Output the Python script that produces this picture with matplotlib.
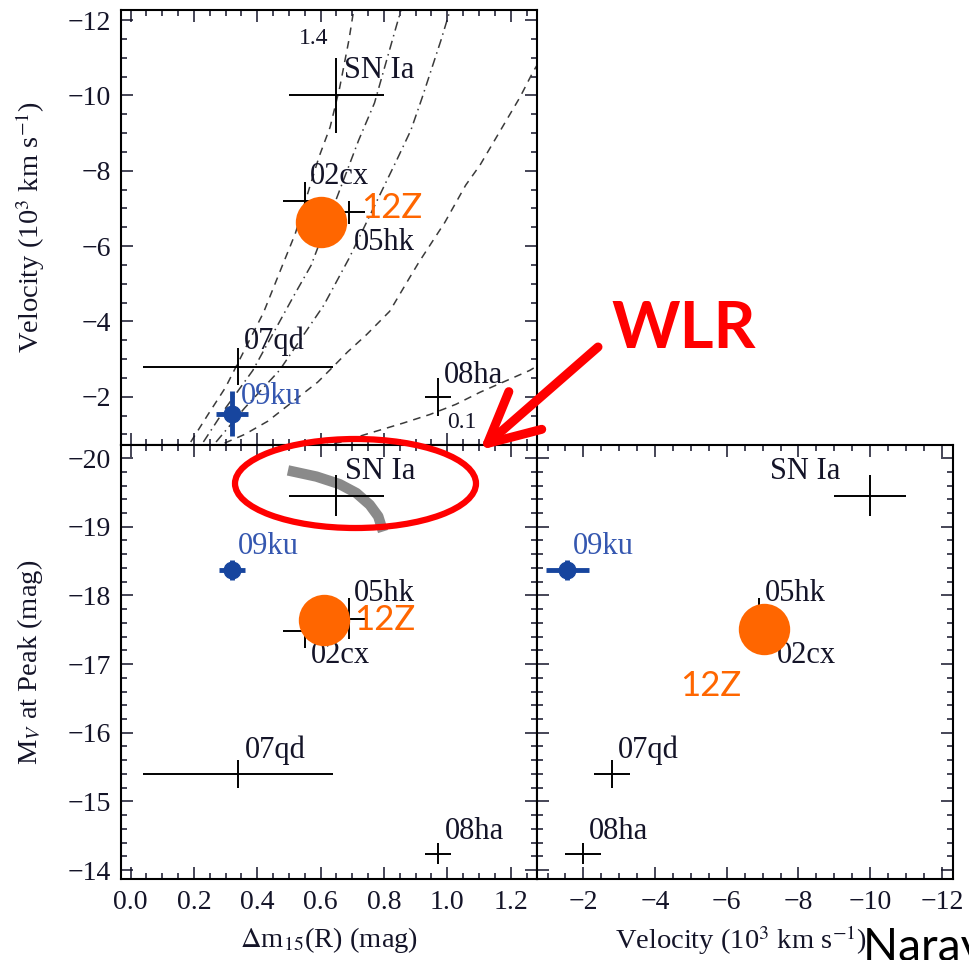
import matplotlib.pyplot as plt
from matplotlib.patches import Ellipse
from matplotlib.ticker import MultipleLocator

plt.rcParams['font.family'] = 'Liberation Serif'
plt.rcParams['mathtext.fontset'] = 'stix'

# comparison supernovae: SN Ia average, 02cx, 05hk, 07qd, 08ha
names = ['SN Ia', '02cx', '05hk', '07qd', '08ha']
dm15 = [0.65, 0.55, 0.69, 0.34, 0.97]
dm15_err = [0.15, 0.07, 0.05, 0.30, 0.04]
vel = [-10.0, -7.2, -6.9, -2.8, -2.0]
vel_err = [1.0, 0.5, 0.3, 0.5, 0.5]
mv = [-19.45, -17.48, -17.66, -15.40, -14.24]
mv_err = [0.30, 0.25, 0.30, 0.20, 0.15]

# SN 2009ku
ku_dm15, ku_dm15_err = 0.32, 0.05
ku_vel, ku_vel_err = -1.55, 0.6
ku_mv, ku_mv_err = -18.37, 0.15

# 12Z as placed on each panel
z12_dm15 = [0.60, 0.61]    # velocity panel, magnitude panel
z12_vel = [-6.65, -7.05]   # velocity panel, right panel
z12_mv = [-17.64, -17.51]  # left panel, right panel

# ejecta-mass tracks in the velocity panel (1.4 ... 0.1)
track_dm15 = [
    [0.19, 0.25, 0.30, 0.42, 0.48, 0.52, 0.595, 0.63, 0.66, 0.69, 0.705],
    [0.23, 0.30, 0.386, 0.48, 0.52, 0.57, 0.72, 0.77, 0.84, 0.855],
    [0.27, 0.36, 0.47, 0.61, 0.69, 0.84, 0.885, 0.92, 0.98, 1.01],
    [0.297, 0.36, 0.433, 0.591, 0.635, 0.685, 0.745, 0.818, 0.88, 0.91,
     0.992, 1.058, 1.103, 1.166, 1.229, 1.27, 1.29],
    [0.60, 0.66, 0.765, 0.86, 0.945, 1.027, 1.103, 1.26, 1.29],
]
track_vel = [
    [-0.8, -1.6, -2.25, -4.24, -5.5, -6.33, -8.37, -9.16, -10.2, -11.5, -12.3],
    [-0.8, -1.7, -2.7, -4.14, -4.75, -5.49, -8.81, -9.8, -11.87, -12.3],
    [-0.8, -1.7, -2.7, -4.43, -5.68, -8.28, -9.08, -9.93, -11.47, -12.3],
    [-0.77, -1.0, -1.35, -2.39, -2.76, -3.19, -3.65, -4.27, -5.15, -5.57,
     -6.63, -7.62, -8.15, -9.05, -9.95, -10.62, -10.9],
    [-0.7, -0.79, -1.06, -1.30, -1.53, -1.80, -2.12, -2.70, -2.85],
]
track_ls = [(0, (5, 4)), (0, (6, 3, 1, 3)), (0, (6, 3, 1, 3)), (0, (5, 4)), (0, (5, 4))]

# SN Ia width-luminosity relation band
wlr_dm15 = [0.497, 0.587, 0.66, 0.713, 0.755, 0.782, 0.797]
wlr_mv = [-19.82, -19.73, -19.62, -19.49, -19.32, -19.15, -18.93]

ORANGE = '#ff6600'
BLUE = '#17459e'
INK = '#141428'

W, H = 969, 960
fig = plt.figure(figsize=(W / 100, H / 100), dpi=100)


def px_axes(left, top, right, bottom):
    return fig.add_axes([left / W, 1 - bottom / H, (right - left) / W, (bottom - top) / H])


ax_v = px_axes(121, 10, 537, 445)
ax_m = px_axes(121, 445, 537, 879)
ax_r = px_axes(537, 445, 953, 879)

for ax in (ax_v, ax_m, ax_r):
    ax.tick_params(which='both', direction='in', top=True, right=True,
                   width=1.1, labelsize=20, colors=INK)
    ax.tick_params(which='major', length=8.5)
    ax.tick_params(which='minor', length=4.5)
    ax.tick_params(axis='x', pad=8)
    ax.tick_params(axis='y', pad=7)
    for s in ax.spines.values():
        s.set_linewidth(1.5)

ax_v.set_xlim(-0.03, 1.283)
ax_v.set_ylim(-0.72, -12.27)
ax_v.xaxis.set_major_locator(MultipleLocator(0.2))
ax_v.xaxis.set_minor_locator(MultipleLocator(0.05))
ax_v.yaxis.set_major_locator(MultipleLocator(2))
ax_v.yaxis.set_minor_locator(MultipleLocator(0.5))
ax_v.tick_params(labelbottom=False)

ax_m.set_xlim(-0.03, 1.283)
ax_m.set_ylim(-13.87, -20.19)
ax_m.xaxis.set_major_locator(MultipleLocator(0.2))
ax_m.xaxis.set_minor_locator(MultipleLocator(0.05))
ax_m.yaxis.set_major_locator(MultipleLocator(1))
ax_m.yaxis.set_minor_locator(MultipleLocator(0.2))
ax_m.xaxis.set_major_formatter(lambda v, p: f'{v:.1f}')

ax_r.set_xlim(-0.706, -12.31)
ax_r.set_ylim(-13.87, -20.19)
ax_r.xaxis.set_major_locator(MultipleLocator(2))
ax_r.xaxis.set_minor_locator(MultipleLocator(0.5))
ax_r.yaxis.set_major_locator(MultipleLocator(1))
ax_r.yaxis.set_minor_locator(MultipleLocator(0.2))
ax_r.tick_params(labelleft=False)

vel_label = r'Velocity (10$^3$ km s$^{-1}$)'
ax_v.set_ylabel(vel_label, fontsize=20.5, color=INK)
ax_v.yaxis.set_label_coords(-0.219, 0.5)
ax_v.yaxis.label.set_va('center')
ax_m.set_ylabel(r'M$_V$ at Peak (mag)', fontsize=20.5, color=INK)
ax_m.yaxis.set_label_coords(-0.219, 0.5)
ax_m.yaxis.label.set_va('center')
ax_m.set_xlabel(r'$\Delta$m$_{15}$(R) (mag)', fontsize=20.5, color=INK)
ax_m.xaxis.set_label_coords(0.5, -0.14)
ax_m.xaxis.label.set_va('center')
ax_r.set_xlabel(vel_label, fontsize=20.5, color=INK)
ax_r.xaxis.set_label_coords(0.49, -0.14)
ax_r.xaxis.label.set_va('center')

# model tracks
for xs, vs, ls in zip(track_dm15, track_vel, track_ls):
    ax_v.plot(xs, vs, color='#3a3a3a', lw=1.1, linestyle=ls, zorder=1)
ax_v.text(0.578, -11.51, '1.4', fontsize=17, color=INK, ha='center', va='center')
ax_v.text(1.0, -1.33, '0.1', fontsize=17, color=INK, ha='left', va='center')

# width-luminosity band
ax_m.plot(wlr_dm15, wlr_mv, color='#8a8a8a', lw=7.5, solid_capstyle='butt', zorder=1)

# comparison objects
eb = dict(fmt='none', ecolor='black', elinewidth=1.4, capsize=0, zorder=2)
ax_v.errorbar(dm15, vel, xerr=dm15_err, yerr=vel_err, **eb)
ax_m.errorbar(dm15, mv, xerr=dm15_err, yerr=mv_err, **eb)
ax_r.errorbar(vel, mv, xerr=vel_err, yerr=mv_err, **eb)

# 09ku
kb = dict(fmt='o', ms=12, color=BLUE, ecolor=BLUE, elinewidth=3.5, capsize=0, zorder=4)
ax_v.errorbar(ku_dm15, ku_vel, xerr=ku_dm15_err, yerr=ku_vel_err, **kb)
ax_m.errorbar(ku_dm15, ku_mv, xerr=0.04, yerr=ku_mv_err, **kb)
ax_r.errorbar(ku_vel, ku_mv, xerr=ku_vel_err, yerr=ku_mv_err, **kb)

# text labels
lab = dict(fontsize=22, color=INK, ha='left', va='center')
ku_lab = {**lab, 'color': '#3557b0'}
ax_v.text(0.673, -10.67, 'SN Ia', **lab)
ax_v.text(0.567, -7.86, '02cx', **lab)
ax_v.text(0.706, -6.10, '05hk', **lab)
ax_v.text(0.357, -3.47, '07qd', **lab)
ax_v.text(0.989, -2.57, '08ha', **lab)
ax_v.text(0.349, -2.00, '09ku', **ku_lab)

ax_m.text(0.676, -19.80, 'SN Ia', **lab)
ax_m.text(0.339, -18.71, '09ku', **ku_lab)
ax_m.text(0.705, -18.03, '05hk', **lab)
ax_m.text(0.568, -17.13, '02cx', **lab)
ax_m.text(0.36, -15.75, '07qd', **lab)
ax_m.text(0.992, -14.56, '08ha', **lab)

ax_r.text(-7.21, -19.80, 'SN Ia', **lab)
ax_r.text(-1.72, -18.71, '09ku', **ku_lab)
ax_r.text(-7.07, -18.03, '05hk', **lab)
ax_r.text(-7.39, -17.13, '02cx', **lab)
ax_r.text(-2.97, -15.75, '07qd', **lab)
ax_r.text(-2.14, -14.56, '08ha', **lab)

# 12Z
ax_v.plot(z12_dm15[0], z12_vel[0], 'o', ms=37, color=ORANGE, mec='none', zorder=6)
ax_m.plot(z12_dm15[1], z12_mv[0], 'o', ms=37, color=ORANGE, mec='none', zorder=6)
ax_r.plot(z12_vel[1], z12_mv[1], 'o', ms=37, color=ORANGE, mec='none', zorder=6)
zl = dict(fontsize=25, color=ORANGE, family='Lato', ha='left', va='center', zorder=7)
ax_v.text(0.728, -7.0, '12Z', **zl)
ax_m.text(0.705, -17.64, '12Z', **zl)
ax_r.text(-4.69, -16.68, '12Z', **zl)

# WLR callout
fig.add_artist(Ellipse((355.5 / W, 1 - 483.5 / H), 241 / W, 89 / H,
                       transform=fig.transFigure, fill=False, ec='red', lw=4.5, zorder=10))
ax_r.annotate('', xy=(480, H - 450), xycoords='figure pixels',
              xytext=(598, H - 347), textcoords='figure pixels',
              arrowprops=dict(arrowstyle='->,head_length=1.8,head_width=0.9',
                              mutation_scale=20, lw=6.5, color='red',
                              shrinkA=0, shrinkB=0),
              annotation_clip=False, zorder=10)
fig.text(684 / W, 1 - 330 / H, 'WLR', color='red', fontsize=47, fontweight='bold',
         family='Lato', ha='center', va='center')

fig.text(863 / W, -0.001, 'Narayan et al.', family='Lato', fontsize=33,
         color='black', ha='left', va='baseline')

fig.savefig('out.png', dpi=100)
